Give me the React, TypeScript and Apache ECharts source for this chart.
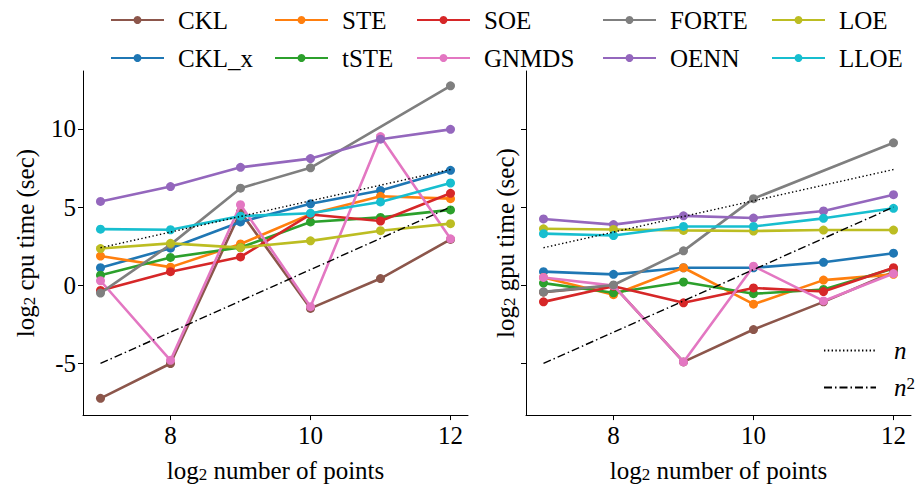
import React, { useEffect, useRef } from "react";
import * as echarts from "echarts";

const xs = [7, 8, 9, 10, 11, 12];
const names = ["CKL", "CKL_x", "STE", "tSTE", "SOE", "GNMDS", "FORTE", "OENN", "LOE", "LLOE"];
const colors = ["#8c564b", "#1f77b4", "#ff7f0e", "#2ca02c", "#d62728", "#e377c2", "#7f7f7f", "#9467bd", "#bcbd22", "#17becf"];

const cpuCKL = [-7.23, -5.0, 4.7, -1.48, 0.43, 2.93];
const cpuCKLx = [1.12, 2.37, 4.05, 5.21, 6.06, 7.35];
const cpuSTE = [1.87, 1.16, 2.64, 4.55, 5.69, 5.54];
const cpuTSTE = [0.64, 1.78, 2.41, 4.05, 4.34, 4.82];
const cpuSOE = [-0.33, 0.87, 1.81, 4.53, 4.11, 5.88];
const cpuGNMDS = [0.29, -4.8, 5.15, -1.37, 9.51, 2.97];
const cpuFORTE = [-0.5, 2.6, 6.21, 7.51, null, 12.75];
const cpuOENN = [5.36, 6.31, 7.54, 8.1, 9.34, 9.97];
const cpuLOE = [2.35, 2.68, 2.41, 2.84, 3.49, 3.94];
const cpuLLOE = [3.59, 3.55, 4.42, 4.61, 5.33, 6.54];

const gpuCKL = [-0.44, -0.02, -4.9, -2.83, -1.06, 0.85];
const gpuCKLx = [0.87, 0.7, 1.12, 1.12, 1.47, 2.05];
const gpuSTE = [0.5, -0.6, 1.12, -1.21, 0.33, 0.7];
const gpuTSTE = [0.14, -0.48, 0.21, -0.54, -0.27, 1.08];
const gpuSOE = [-1.06, -0.06, -1.12, -0.17, -0.4, 1.12];
const gpuGNMDS = [0.5, -0.02, -4.9, 1.22, -1.0, 0.75];
const gpuFORTE = [-0.42, 0.02, 2.2, 5.54, null, 9.11];
const gpuOENN = [4.24, 3.88, 4.44, 4.3, 4.75, 5.79];
const gpuLOE = [3.61, 3.57, 3.51, 3.47, 3.53, 3.53];
const gpuLLOE = [3.3, 3.18, 3.76, 3.76, 4.28, 4.92];

const refX = [7, 12];
const refN = [2.4, 7.4];
const refN2 = [-5, 5];

const xTicks = [8, 10, 12];
const yTicks = [-5, 0, 5, 10];

const cpuData = [cpuCKL, cpuCKLx, cpuSTE, cpuTSTE, cpuSOE, cpuGNMDS, cpuFORTE, cpuOENN, cpuLOE, cpuLLOE];
const gpuData = [gpuCKL, gpuCKLx, gpuSTE, gpuTSTE, gpuSOE, gpuGNMDS, gpuFORTE, gpuOENN, gpuLOE, gpuLLOE];

const FONT = "Liberation Serif";
const FS = 25;

const richSub = {
  a: { fontSize: FS, fontFamily: FONT, color: "#000", lineHeight: 25, verticalAlign: "top" },
  b: { fontSize: 17, fontFamily: FONT, color: "#000", lineHeight: 17, verticalAlign: "bottom", padding: [13, 0, 0, 0] },
};

export default function App() {
  const ref = useRef<HTMLDivElement>(null);
  useEffect(() => {
    const chart = echarts.init(ref.current!, null, { renderer: "svg" });
    const series: any[] = [];
    [cpuData, gpuData].forEach((set, gi) => {
      set.forEach((vals, i) => {
        series.push({
          type: "line",
          name: names[i],
          xAxisIndex: gi,
          yAxisIndex: gi,
          data: xs.map((x, k) => [x, vals[k]]),
          connectNulls: true,
          symbol: "circle",
          symbolSize: 9,
          color: colors[i],
          lineStyle: { width: 2.6, color: colors[i] },
          itemStyle: { color: colors[i] },
          silent: true,
          z: 2 + i,
        });
      });
      series.push({
        type: "line",
        name: "n",
        xAxisIndex: gi,
        yAxisIndex: gi,
        data: refX.map((x, k) => [x, refN[k]]),
        symbol: "none",
        color: "#000",
        lineStyle: { width: 1.4, color: "#000", type: [1.4, 2.4] },
        silent: true,
        z: 20,
      });
      series.push({
        type: "line",
        name: "n2",
        xAxisIndex: gi,
        yAxisIndex: gi,
        data: refX.map((x, k) => [x, refN2[k]]),
        symbol: "none",
        color: "#000",
        lineStyle: { width: 1.4, color: "#000", type: [8, 3, 1.5, 3] },
        silent: true,
        z: 21,
      });
    });

    const axisLineStyle = { show: true, lineStyle: { color: "#000", width: 1 } };
    const mkX = (gi: number) => ({
      type: "value",
      gridIndex: gi,
      min: 6.75,
      max: 12.25,
      axisLine: { ...axisLineStyle, onZero: false },
      axisTick: { show: true, customValues: xTicks, length: 5, lineStyle: { color: "#000" } },
      axisLabel: { customValues: xTicks, color: "#000", fontFamily: FONT, fontSize: FS, margin: 8 },
      splitLine: { show: false },
      name: "{a|log}{b|2}{a| number of points}",
      nameLocation: "middle",
      nameGap: 36,
      nameTextStyle: { rich: richSub },
    });
    const mkY = (gi: number) => ({
      type: "value",
      gridIndex: gi,
      min: -8.3,
      max: 13.7,
      axisLine: { ...axisLineStyle, onZero: false },
      axisTick: { show: true, customValues: yTicks, length: 5, lineStyle: { color: "#000" } },
      axisLabel: { show: gi === 0, customValues: yTicks, color: "#000", fontFamily: FONT, fontSize: FS, margin: 7 },
      splitLine: { show: false },
      name: gi === 0 ? "{a|log}{b|2}{a| cpu time (sec)}" : "{a|log}{b|2}{a| gpu time (sec)}",
      nameLocation: "middle",
      nameRotate: 90,
      nameGap: gi === 0 ? 45 : 8,
      nameTextStyle: { rich: richSub },
    });

    const legendLefts = [105, 269, 411, 597, 766];
    const legends: any[] = legendLefts.map((left, c) => ({
      orient: "vertical",
      left,
      top: 2,
      itemWidth: 53,
      itemHeight: 10,
      itemGap: 12,
      selectedMode: false,
      data: [names[c * 2], names[c * 2 + 1]],
      textStyle: { fontFamily: FONT, fontSize: FS, color: "#000", lineHeight: 26, padding: [0, 0, 0, 9] },
    }));
    legends.push({
      orient: "vertical",
      left: 818,
      top: 333,
      itemWidth: 52,
      itemHeight: 10,
      itemGap: 12,
      selectedMode: false,
      itemStyle: { opacity: 0 },
      data: ["n", "n2"],
      formatter: (nm: string) => (nm === "n" ? "{i|n}" : "{i|n}{s|2}"),
      textStyle: {
        padding: [0, 0, 0, 13],
        rich: {
          i: { fontFamily: FONT, fontStyle: "italic", fontSize: FS, color: "#000", lineHeight: 25, verticalAlign: "bottom" },
          s: { fontFamily: FONT, fontSize: 17, color: "#000", lineHeight: 17, verticalAlign: "top", padding: [0, 0, 10, 0] },
        },
      },
    });

    chart.setOption({
      animation: false,
      textStyle: { fontFamily: FONT, color: "#000" },
      grid: [
        { left: 83, top: 71, width: 385, height: 352, containLabel: false },
        { left: 526, top: 71, width: 385, height: 352, containLabel: false },
      ],
      legend: legends,
      xAxis: [mkX(0), mkX(1)],
      yAxis: [mkY(0), mkY(1)],
      series,
    });
    return () => chart.dispose();
  }, []);
  return <div ref={ref} style={{ position: "fixed", left: 0, top: 0, width: 917, height: 488, background: "#fff" }} />;
}
